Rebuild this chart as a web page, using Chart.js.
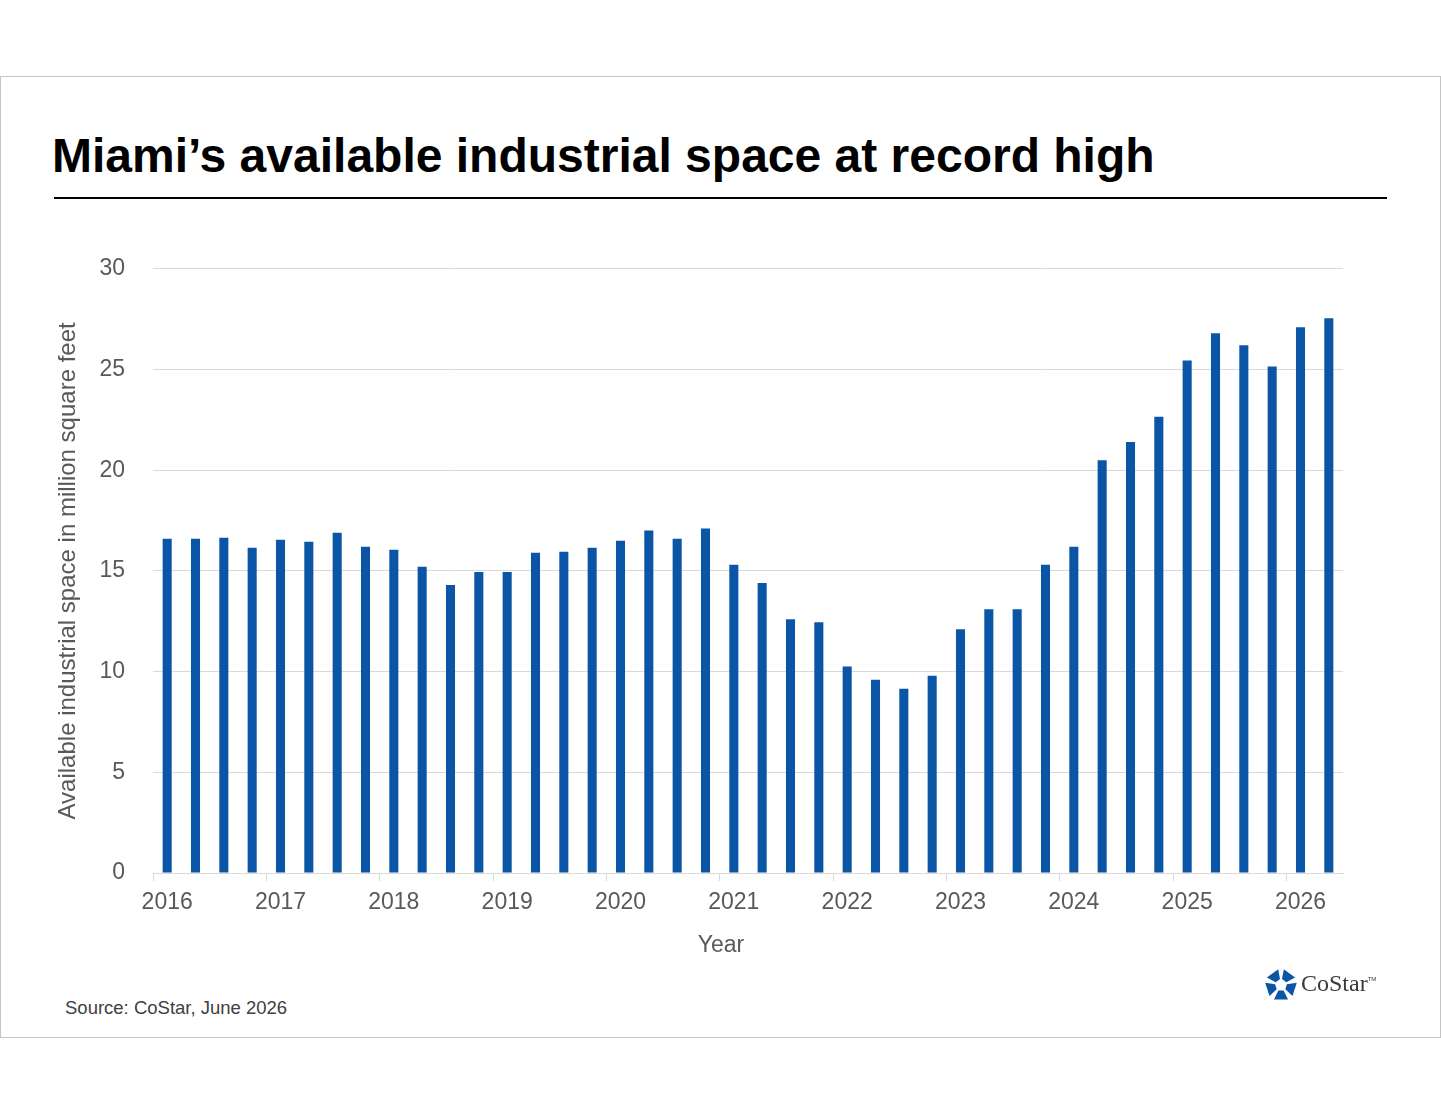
<!DOCTYPE html>
<html>
<head>
<meta charset="utf-8">
<script src="https://cdn.jsdelivr.net/npm/chart.js@4.4.1/dist/chart.umd.min.js"></script>
<style>
  html, body { margin: 0; padding: 0; background: #fff; }
  body { width: 1441px; height: 1114px; position: relative; overflow: hidden; font-family: "Liberation Sans", Arial, sans-serif; }
  #frame { position: absolute; left: 0; top: 76px; width: 1441px; height: 962px; border: 1.5px solid #c4c4c4; box-sizing: border-box; }
  #title { position: absolute; left: 52px; top: 128px; font-size: 48px; font-weight: bold; color: #000; line-height: 56px; white-space: nowrap; }
  #rule { position: absolute; left: 54px; top: 197px; width: 1333px; height: 2px; background: #000; }
  #chartBox { position: absolute; left: 0; top: 227px; width: 1441px; height: 760px; }
  #xTitle { position: absolute; left: 621px; width: 200px; top: 929px; text-align: center; font-size: 23px; color: #595959; line-height: 30px; }
  #source { position: absolute; left: 65px; top: 997px; font-size: 18.5px; color: #404040; }
  #logo { position: absolute; left: 1263px; top: 967px; }
  #logoText { position: absolute; left: 1301px; top: 970px; font-family: "Liberation Serif", "Times New Roman", serif; font-size: 24px; color: #3a3a3a; }
  #logoText sup { font-family: "Liberation Sans", Arial, sans-serif; font-size: 6px; vertical-align: 10px; }
</style>
</head>
<body>
<div id="frame"></div>
<div id="title">Miami’s available industrial space at record high</div>
<div id="rule"></div>
<div id="chartBox"><canvas id="chart" width="1441" height="760"></canvas></div>
<div id="xTitle">Year</div>
<div id="source">Source: CoStar, June 2026</div>
<svg id="logo" width="36" height="36" viewBox="-18 -18 36 36"></svg>
<div id="logoText">CoStar<sup>TM</sup></div>
<script>
// quarterly categories, 2016 Q1 .. 2026 Q2
const quarters = [
    '2016 Q1', '2016 Q2', '2016 Q3', '2016 Q4',
    '2017 Q1', '2017 Q2', '2017 Q3', '2017 Q4',
    '2018 Q1', '2018 Q2', '2018 Q3', '2018 Q4',
    '2019 Q1', '2019 Q2', '2019 Q3', '2019 Q4',
    '2020 Q1', '2020 Q2', '2020 Q3', '2020 Q4',
    '2021 Q1', '2021 Q2', '2021 Q3', '2021 Q4',
    '2022 Q1', '2022 Q2', '2022 Q3', '2022 Q4',
    '2023 Q1', '2023 Q2', '2023 Q3', '2023 Q4',
    '2024 Q1', '2024 Q2', '2024 Q3', '2024 Q4',
    '2025 Q1', '2025 Q2', '2025 Q3', '2025 Q4',
    '2026 Q1', '2026 Q2'
];

// available space, million sq ft
const available = [
    16.6, 16.6, 16.65, 16.15,
    16.55, 16.45, 16.9, 16.2,
    16.05, 15.2, 14.3, 14.95,
    14.95, 15.9, 15.95, 16.15,
    16.5, 17.0, 16.6, 17.1,
    15.3, 14.4, 12.6, 12.45,
    10.25, 9.6, 9.15, 9.8,
    12.1, 13.1, 13.1, 15.3,
    16.2, 20.5, 21.4, 22.65,
    25.45, 26.8, 26.2, 25.15,
    27.1, 27.55
];

const yTicks = [0, 5, 10, 15, 20, 25, 30];

const axisGray = '#595959';
const lineGray = '#d9d9d9';
const barBlue = '#0b55a7';

Chart.defaults.font.family = '"Liberation Sans", Arial, sans-serif';
Chart.defaults.font.size = 23;
Chart.defaults.color = axisGray;

new Chart(document.getElementById('chart'), {
    type: 'bar',
    data: {
        labels: quarters,
        datasets: [{
            label: 'Available space',
            data: available,
            backgroundColor: barBlue,
            borderWidth: 0,
            barPercentage: 0.64,
            categoryPercentage: 0.5
        }]
    },
    options: {
        responsive: false,
        animation: false,
        layout: { padding: { top: 35, right: 98, bottom: 18, left: 0 } },
        plugins: {
            legend: { display: false },
            tooltip: { enabled: false }
        },
        scales: {
            x: {
                offset: true,
                grid: {
                    offset: true,
                    drawOnChartArea: false,
                    drawTicks: true,
                    tickLength: 8,
                    color: function (ctx) {
                        return ctx.index % 4 === 0 ? lineGray : 'rgba(0,0,0,0)';
                    }
                },
                border: { color: lineGray, width: 1 },
                ticks: {
                    autoSkip: false,
                    maxRotation: 0,
                    minRotation: 0,
                    padding: 8,
                    color: axisGray,
                    callback: function (value, index) {
                        const q = quarters[index];
                        return q.endsWith('Q1') ? q.slice(0, 4) : '';
                    }
                },
                afterFit: function (scale) { scale.height = 96; }
            },
            y: {
                min: 0,
                max: 30,
                afterBuildTicks: function (scale) {
                    scale.ticks = yTicks.map(v => ({ value: v }));
                },
                grid: { color: lineGray, lineWidth: 1, drawTicks: false },
                border: { display: false },
                ticks: { padding: 28, color: axisGray },
                title: {
                    display: true,
                    text: 'Available industrial space in million square feet',
                    color: axisGray,
                    font: { size: 24 },
                    padding: { top: 54, bottom: 0 }
                },
                afterFit: function (scale) { scale.width = 153; }
            }
        }
    }
});

// CoStar mark: five blue pieces round a ring
(function () {
    const svg = document.getElementById('logo');
    const rO = 16, rI = 6;
    let html = '';
    for (let k = 0; k < 5; k++) {
        const a0 = (k * 72 - 90 + 10) * Math.PI / 180;
        const a1 = (k * 72 - 90 + 62) * Math.PI / 180;
        const pts = [
            [rO * Math.cos(a0), rO * Math.sin(a0)],
            [rO * Math.cos(a1), rO * Math.sin(a1)],
            [rI * Math.cos(a1), rI * Math.sin(a1)],
            [rI * Math.cos(a0), rI * Math.sin(a0)]
        ].map(p => p[0].toFixed(1) + ',' + p[1].toFixed(1)).join(' ');
        html += '<polygon points="' + pts + '" fill="#0b55a7"/>';
    }
    svg.innerHTML = html;
})();
</script>
</body>
</html>
